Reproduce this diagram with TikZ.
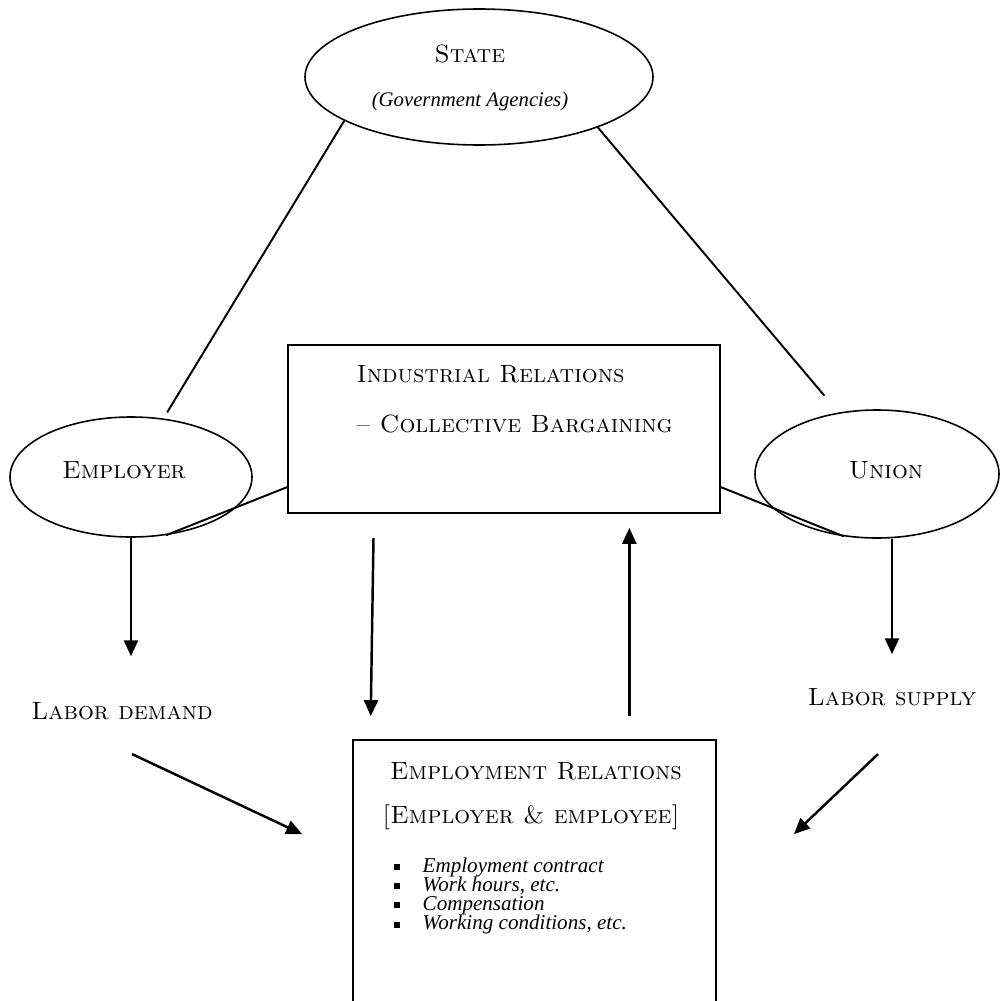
\documentclass[tikz,border=0pt]{standalone}
\usepackage{fontspec}
\usepackage{tikz}
\usetikzlibrary{arrows.meta,shapes.geometric,calc}
\newfontfamily\itfont{Liberation Serif}

\begin{document}
\begin{tikzpicture}[
  x=0.1mm, y=-0.1mm,
  oval/.style={draw, ellipse, line width=0.45pt, inner sep=0pt},
  box/.style={draw, rectangle, line width=0.5pt, inner sep=0pt},
  lbl/.style={inner sep=0pt, font=\fontsize{7.1}{8}\selectfont\scshape},
  itl/.style={inner sep=0pt, font=\fontsize{5.9}{7}\selectfont\itfont\itshape},
  itm/.style={inner sep=0pt, font=\fontsize{6}{6}\selectfont\itfont\itshape},
  con/.style={line width=0.55pt},
  arr/.style={-{Triangle[length=1.6mm, width=1.4mm]}, line width=0.7pt}
]
\clip (0,0) rectangle (1001,1001);
\node[oval, minimum width=34.8mm, minimum height=13.6mm] (state) at (479,77) {};
\node[oval, minimum width=24.2mm, minimum height=12mm] (emp) at (131,477) {};
\node[oval, minimum width=24.4mm, minimum height=12.8mm] (union) at (877,474) {};
\node[box, minimum width=43.2mm, minimum height=16.8mm] (ir) at (504,429) {};
\node[box, minimum width=36.3mm, minimum height=28mm] (er) at (534.5,880) {};
\node[lbl, anchor=base] (statename) at (470,63) {State};
\node[itl, anchor=base] (agencies) at (470,107) {(Government Agencies)};
\node[lbl, anchor=base] (empname) at (124,478) {Employer};
\node[lbl, anchor=base] (unionname) at (886,478) {Union};
\node[lbl, anchor=base west] (irtitle) at (356,382) {Industrial Relations};
\node[lbl, anchor=base west] (irsub) at (356,432) {-- Collective Bargaining};
\node[lbl, anchor=base] (demand) at (122,719) {Labor demand};
\node[lbl, anchor=base] (supply) at (892,705) {Labor supply};
\node[lbl, anchor=base] (ertitle) at (536,779) {Employment Relations};
\node[lbl, anchor=base] (ersub) at (531,823) {[Employer \& employee]};
\foreach \txt [count=\i] in {Employment contract, {Work hours, etc.}, Compensation, {Working conditions, etc.}}
  \node[itm, anchor=base west] (item\i) at (393,{872+19.2*(\i-1)})
    {\raisebox{0.2mm}{\rule{0.6mm}{0.6mm}}\hspace{2.3mm}\txt};
\draw[con, shorten >=0.7mm] (state.198) -- (emp.61);
\draw[con, shorten >=2.2mm] (state.337) -- (union.122);
\draw[con] (ir.195) -- (emp.301);
\draw[con] (ir.345) -- (union.242);
\draw[arr, shorten >=4.5mm] (emp.south) -- (emp.south |- demand.north);
\draw[arr, shorten >=3.3mm] (supply.north |- union.south) -- (supply.north);
\draw[arr, shorten <=2.4mm, shorten >=2.3mm] ($(ir.south west)!0.2!(ir.south east)$) -- ($(er.north west)!0.05!(er.north east)$);
\draw[arr, shorten <=2.3mm, shorten >=1.4mm] ($(er.north west)!0.76!(er.north east)$) coordinate (up) -- (up |- ir.south);
\draw[arr] ($(demand.south)+(10,34)$) -- ($(er.north west)+(-50,95)$);
\draw[arr] ($(supply.south)+(-14,48)$) -- ($(er.north east)+(77,95)$);
\end{tikzpicture}
\end{document}
